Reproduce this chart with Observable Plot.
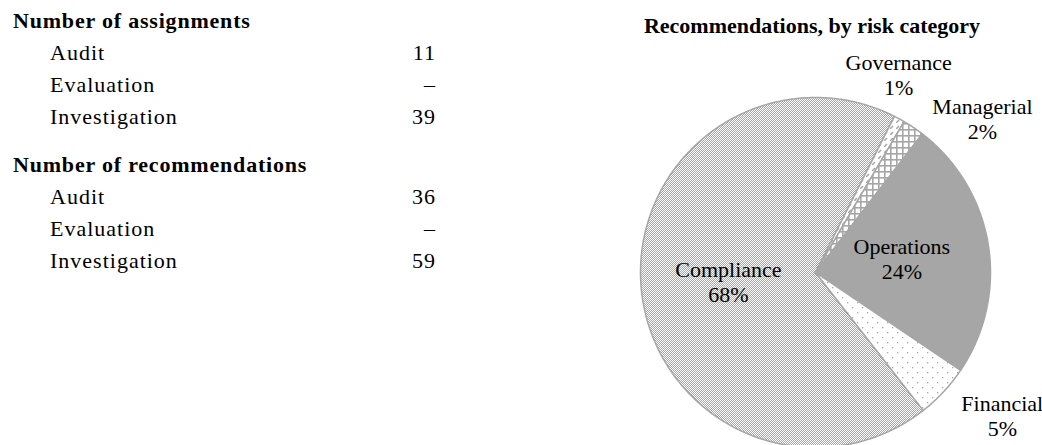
<!DOCTYPE html>
<html>
<head>
<meta charset="utf-8">
<script src="https://cdn.jsdelivr.net/npm/d3@7"></script>
<script src="https://cdn.jsdelivr.net/npm/@observablehq/plot@0.6"></script>
<style>
  html, body { margin: 0; padding: 0; background: #fff; }
  body {
    width: 1042px; height: 445px; position: relative; overflow: hidden;
    font-family: "Liberation Serif", "Times New Roman", serif; color: #000;
  }
  #stats { position: absolute; left: 13px; top: 5px; width: 423px; font-size: 22px; line-height: 32px; }
  #stats .head { font-weight: bold; letter-spacing: 0.8px; }
  #stats .head.second { margin-top: 16px; }
  #stats .row { display: flex; justify-content: space-between; padding-left: 37px; letter-spacing: 1px; }
  #pie-title {
    position: absolute; left: 612px; width: 400px; top: 13px; text-align: center;
    font-weight: bold; font-size: 22px; line-height: 26px;
  }
  #pie { position: absolute; left: 620px; top: 45px; }
  #pie svg { overflow: visible; }
</style>
</head>
<body>
<svg width="0" height="0" style="position:absolute">
  <defs>
    <pattern id="fill-compliance" patternUnits="userSpaceOnUse" width="2" height="2">
      <rect width="2" height="2" fill="#fff"/>
      <rect x="0" y="0" width="1" height="1" fill="#a6a6a6"/>
      <rect x="1" y="1" width="1" height="1" fill="#a6a6a6"/>
    </pattern>
    <pattern id="fill-governance" patternUnits="userSpaceOnUse" width="6" height="6">
      <rect width="6" height="6" fill="#fff"/>
      <path d="M0,6 L3,3" stroke="#a6a6a6" stroke-width="1.5"/>
    </pattern>
    <pattern id="fill-managerial" patternUnits="userSpaceOnUse" width="6" height="6">
      <rect width="6" height="6" fill="#fff"/>
      <rect x="0" y="0" width="6" height="1.6" fill="#a6a6a6"/>
      <rect x="0" y="0" width="1.6" height="6" fill="#a6a6a6"/>
    </pattern>
    <pattern id="fill-financial" patternUnits="userSpaceOnUse" width="10" height="10">
      <rect width="10" height="10" fill="#fff"/>
      <rect x="2" y="2" width="1.3" height="1.3" fill="#a6a6a6"/>
      <rect x="7" y="7" width="1.3" height="1.3" fill="#a6a6a6"/>
    </pattern>
  </defs>
</svg>
<div id="stats"></div>
<div id="pie-title">Recommendations, by risk category</div>
<div id="pie"></div>
<script>
// Summary counts by assignment type
const assignmentTypes = ["Audit", "Evaluation", "Investigation"];
const assignmentCounts = [11, null, 39];
const recommendationCounts = [36, null, 59];

// Recommendations by risk category (percent)
const riskCategories = ["Compliance", "Governance", "Managerial", "Operations", "Financial"];
const riskShares = [68, 1, 2, 24, 5];

// Fill used for each risk category
const categoryFill = {
  Compliance: "url(#fill-compliance)",
  Governance: "url(#fill-governance)",
  Managerial: "url(#fill-managerial)",
  Operations: "#a6a6a6",
  Financial: "url(#fill-financial)"
};

// ---- Summary table ----
const stats = document.getElementById("stats");
function section(title, counts, extraClass) {
  const h = document.createElement("div");
  h.className = "head" + (extraClass ? " " + extraClass : "");
  h.textContent = title;
  stats.appendChild(h);
  assignmentTypes.forEach((t, i) => {
    const row = document.createElement("div");
    row.className = "row";
    const a = document.createElement("span"); a.textContent = t;
    const b = document.createElement("span"); b.textContent = counts[i] == null ? "–" : String(counts[i]);
    row.append(a, b);
    stats.appendChild(row);
  });
}
section("Number of assignments", assignmentCounts);
section("Number of recommendations", recommendationCounts, "second");

// ---- Pie chart ----
const W = 422, H = 400;
const R = 175;            // pie radius in pixels
const CX = 195, CY = 227; // pie centre in the svg
const firstSliceAngle = 142; // degrees clockwise from 12 o'clock
const fontSize = 22, lineGap = 25;

const a0 = firstSliceAngle * Math.PI / 180;
const arcs = d3.pie().sort(null).startAngle(a0).endAngle(a0 + 2 * Math.PI)(riskShares);

// Slice outlines as closed polygons in unit-circle coordinates
const slices = arcs.map((a, i) => {
  const pts = [{x: 0, y: 0}];
  const n = Math.max(2, Math.ceil((a.endAngle - a.startAngle) / (Math.PI / 360)));
  for (let k = 0; k <= n; ++k) {
    const t = a.startAngle + (a.endAngle - a.startAngle) * k / n;
    pts.push({x: Math.sin(t), y: Math.cos(t)});
  }
  pts.push({x: 0, y: 0});
  return {name: riskCategories[i], pts};
});

// Label text widths
const ctx = document.createElement("canvas").getContext("2d");
ctx.font = `${fontSize}px "Liberation Serif"`;
const labels = arcs.map((a, i) => {
  const lines = [riskCategories[i], riskShares[i] + "%"];
  const w = Math.max(...lines.map(s => ctx.measureText(s).width));
  return {
    text: lines.join("\n"),
    share: riskShares[i],
    angle: (a.startAngle + a.endAngle) / 2,
    w, h: 44,
    inside: riskShares[i] >= 10
  };
});

// Position of an outside label (pixel offsets from the centre):
// pushed out along the slice's mid-angle, then shifted sideways away from the pie
const outerDist = 1.2;
function outsidePos(l) {
  const s = Math.sin(l.angle), c = Math.cos(l.angle);
  const side = 0.35 + 0.3 * Math.max(0, -c);
  return {px: s * outerDist * R + s * l.w * side, py: -c * outerDist * R};
}
// Spread neighbouring outside labels apart until they no longer overlap
const outside = labels.filter(l => !l.inside).sort((p, q) => (p.angle % (2*Math.PI)) - (q.angle % (2*Math.PI)));
for (let iter = 0; iter < 400; ++iter) {
  let moved = false;
  for (let j = 0; j < outside.length - 1; ++j) {
    const p = outside[j], q = outside[j + 1];
    const A = outsidePos(p), B = outsidePos(q);
    if (Math.abs(A.px - B.px) < (p.w + q.w) / 2 && Math.abs(A.py - B.py) < (p.h + q.h) / 2) {
      p.angle -= 0.002; q.angle += 0.002; moved = true;
    }
  }
  if (!moved) break;
}
labels.forEach(l => {
  if (l.inside) {
    l.x = 0.5 * Math.sin(l.angle);
    l.y = 0.5 * Math.cos(l.angle);
  } else {
    const p = outsidePos(l);
    l.x = p.px / R;
    l.y = -p.py / R;
  }
});

const chart = Plot.plot({
  width: W,
  height: H,
  margin: 0,
  x: {domain: [-1, 1], range: [CX - R, CX + R], axis: null},
  y: {domain: [-1, 1], range: [CY + R, CY - R], axis: null},
  style: {background: "transparent", fontFamily: '"Liberation Serif", "Times New Roman", serif'},
  marks: [
    ...slices.map(s => Plot.line(s.pts, {
      x: "x", y: "y",
      fill: categoryFill[s.name],
      stroke: "#a6a6a6",
      strokeWidth: 1.5,
      strokeLinejoin: "round"
    })),
    Plot.text(labels, {
      x: "x", y: "y", text: "text",
      fontSize: fontSize,
      lineHeight: lineGap / fontSize,
      fill: "#000"
    })
  ]
});
document.getElementById("pie").appendChild(chart);

// Keep pattern tiles on whole pixels so the fine textures stay crisp
const filled = chart.querySelector("path");
if (filled && filled.getCTM) {
  const m = filled.getCTM();
  const fx = ((m.e % 1) + 1) % 1, fy = ((m.f % 1) + 1) % 1;
  document.querySelectorAll("pattern").forEach(p => {
    p.setAttribute("x", -fx);
    p.setAttribute("y", -fy);
  });
}
</script>
</body>
</html>
